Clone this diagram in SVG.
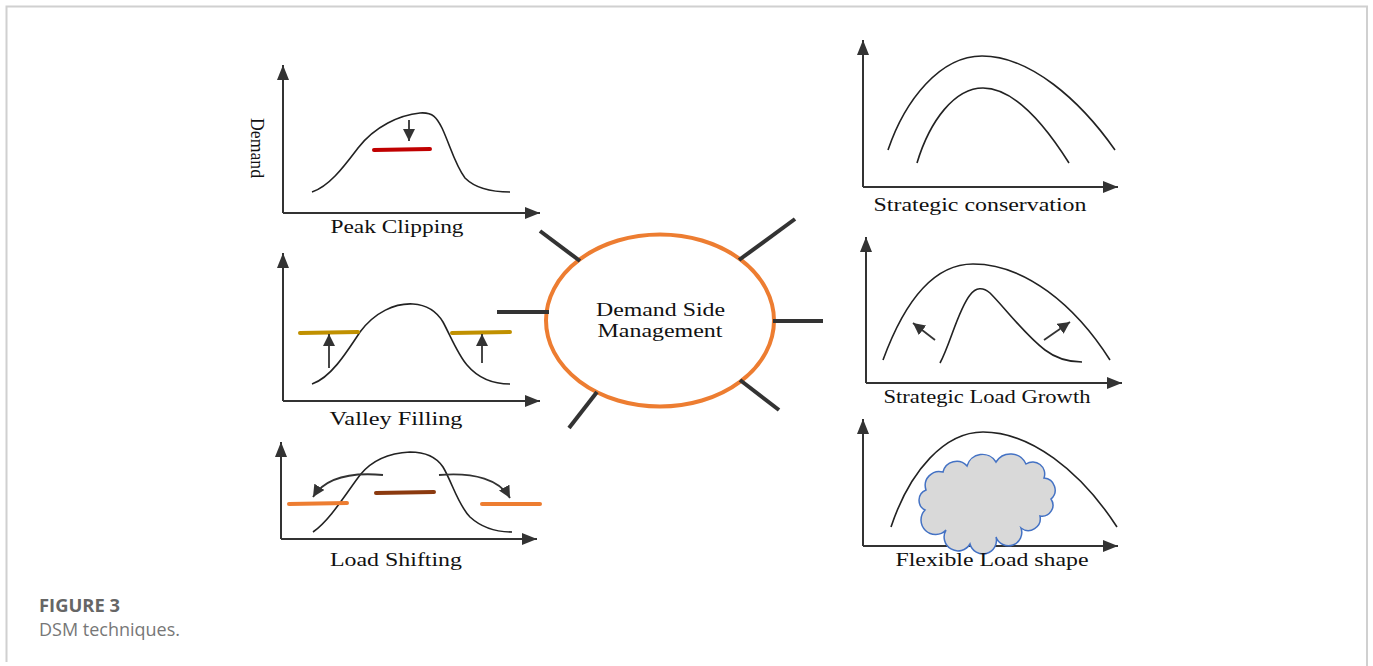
<svg xmlns="http://www.w3.org/2000/svg" width="1373" height="666" viewBox="0 0 1373 666">
<style>
.axis{stroke:#333;stroke-width:2;fill:none;marker-end:url(#ax)}
.curve{stroke:#222;stroke-width:1.6;fill:none}
.sarr{stroke:#333;stroke-width:1.8;fill:none;marker-end:url(#sm)}
.spoke{stroke:#333;stroke-width:4;stroke-linecap:butt}
.lbl{font-family:"Liberation Serif","Times New Roman",serif;font-size:19px;fill:#111;text-anchor:middle}
.cap{font-family:"Open Sans","Noto Sans",sans-serif;font-size:17.5px}
</style>
<defs>
<marker id="ax" viewBox="0 0 15 12" refX="15" refY="6" markerWidth="15" markerHeight="12" markerUnits="userSpaceOnUse" orient="auto"><path d="M0,0 L15,6 L0,12 z" fill="#333"/></marker>
<marker id="sm" viewBox="0 0 12 12" refX="12" refY="6" markerWidth="12" markerHeight="12" markerUnits="userSpaceOnUse" orient="auto"><path d="M0,0 L12,6 L0,12 z" fill="#333"/></marker>
</defs>
<rect width="1373" height="666" fill="#fff"/>
<path d="M6.5,662 V6.5 H1367 V666" fill="none" stroke="#d0d0d0" stroke-width="2"/>

<g id="peak-clipping">
<path class="axis" d="M283,213 V65"/>
<path class="axis" d="M283,213 H540"/>
<path class="curve" d="M312,192 C330,186 345,165 358,148 C375,126 400,115 420,113 C433,112 437,118 442,128 C450,145 455,165 465,178 C475,188 490,192 510,192"/>
<line x1="374" y1="150" x2="430" y2="149" stroke="#c00000" stroke-width="4" stroke-linecap="round"/>
<path class="sarr" d="M409,120 V141"/>
<text class="lbl" x="257" y="148" transform="rotate(90 257 148)" dy="6" textLength="60" lengthAdjust="spacingAndGlyphs">Demand</text>
<text class="lbl" x="397" y="233" textLength="133" lengthAdjust="spacingAndGlyphs">Peak Clipping</text>
</g>

<g id="valley-filling">
<path class="axis" d="M283,401 V253"/>
<path class="axis" d="M283,401 H540"/>
<path class="curve" d="M312,384 C330,378 345,355 360,332 C375,312 395,303 413,304 C428,305 437,312 443,322 C450,335 458,355 467,365 C478,378 492,384 510,384"/>
<line x1="300" y1="333" x2="358" y2="332" stroke="#c09000" stroke-width="4" stroke-linecap="round"/>
<line x1="452" y1="333" x2="510" y2="332" stroke="#c09000" stroke-width="4" stroke-linecap="round"/>
<path class="sarr" d="M329,368 V334"/>
<path class="sarr" d="M482,363 V334"/>
<text class="lbl" x="396" y="425" textLength="133" lengthAdjust="spacingAndGlyphs">Valley Filling</text>
</g>

<g id="load-shifting">
<path class="axis" d="M281,539 V442"/>
<path class="axis" d="M281,539 H537"/>
<path class="curve" d="M313,532 C330,520 345,495 360,475 C372,460 390,453 410,452 C428,452 437,458 443,467 C452,482 458,505 470,517 C482,528 497,532 512,532"/>
<line x1="289" y1="504" x2="347" y2="503" stroke="#ed7d31" stroke-width="4" stroke-linecap="round"/>
<line x1="482" y1="504" x2="540" y2="504" stroke="#ed7d31" stroke-width="4" stroke-linecap="round"/>
<line x1="376" y1="493" x2="434" y2="492" stroke="#8b3a0f" stroke-width="4" stroke-linecap="round"/>
<path class="sarr" d="M383,475 C350,472 325,478 313,497"/>
<path class="sarr" d="M439,475 C475,472 500,480 510,498"/>
<text class="lbl" x="396" y="566" textLength="132" lengthAdjust="spacingAndGlyphs">Load Shifting</text>
</g>

<g id="strategic-conservation">
<path class="axis" d="M863,187 V40"/>
<path class="axis" d="M863,187 H1118"/>
<path class="curve" d="M888,150 C905,100 940,56 982,56 C1030,56 1080,100 1115,150"/>
<path class="curve" d="M917,163 C930,120 955,88 983,88 C1015,88 1045,125 1069,163"/>
<text class="lbl" x="980" y="211" textLength="213" lengthAdjust="spacingAndGlyphs">Strategic conservation</text>
</g>

<g id="strategic-load-growth">
<path class="axis" d="M866,383 V237"/>
<path class="axis" d="M866,383 H1122"/>
<path class="curve" d="M883,360 C905,300 935,264 973,264 C1025,264 1075,305 1110,360"/>
<path class="curve" d="M940,363 C950,345 958,310 970,295 C976,287 983,287 990,293 C1005,308 1025,335 1045,350 C1058,360 1070,362 1082,362"/>
<path class="sarr" d="M935,340 L913,323"/>
<path class="sarr" d="M1044,340 L1070,322"/>
<text class="lbl" x="987" y="403" textLength="207" lengthAdjust="spacingAndGlyphs">Strategic Load Growth</text>
</g>

<g id="flexible-load-shape">
<path class="axis" d="M863,546 V419"/>
<path class="axis" d="M863,546 H1118"/>
<path class="curve" d="M891,527 C910,470 945,432 983,432 C1030,432 1080,470 1117,527"/>
<path d="M925,510 A11,11 0 0 1 926,490 A14,14 0 0 1 943,472 A14,14 0 0 1 967,466 A16,16 0 0 1 996,462 A17,17 0 0 1 1026,464 A12,12 0 0 1 1044,478 A12,12 0 0 1 1051,499 A11,11 0 0 1 1040,516 A12,12 0 0 1 1021,528 A13,13 0 0 1 996,537 A13,13 0 0 1 970,544 A13,13 0 0 1 946,530 A11,11 0 0 1 925,510 Z" fill="#d9d9d9" stroke="#4472c4" stroke-width="1.5"/>
<text class="lbl" x="992" y="566" textLength="193" lengthAdjust="spacingAndGlyphs">Flexible Load shape</text>
</g>

<g id="dsm-center">
<ellipse cx="660" cy="320.5" rx="114" ry="86" fill="#fff" stroke="#ed7d31" stroke-width="4"/>
<text class="lbl" x="660.5" y="316" textLength="129" lengthAdjust="spacingAndGlyphs">Demand Side</text>
<text class="lbl" x="660" y="337" textLength="125" lengthAdjust="spacingAndGlyphs">Management</text>
</g>

<g id="connectors">
<line class="spoke" x1="540" y1="231" x2="580" y2="261"/>
<line class="spoke" x1="497" y1="312" x2="549" y2="312"/>
<line class="spoke" x1="569" y1="428" x2="597" y2="392"/>
<line class="spoke" x1="739" y1="260" x2="795" y2="219"/>
<line class="spoke" x1="773" y1="321" x2="823" y2="321"/>
<line class="spoke" x1="740" y1="380" x2="779" y2="410"/>
</g>

<g id="caption">
<text class="cap" x="39" y="612" font-weight="bold" fill="#666" textLength="81" lengthAdjust="spacingAndGlyphs">FIGURE 3</text>
<text class="cap" x="39" y="636" fill="#777" textLength="141" lengthAdjust="spacingAndGlyphs">DSM techniques.</text>
</g>
</svg>
